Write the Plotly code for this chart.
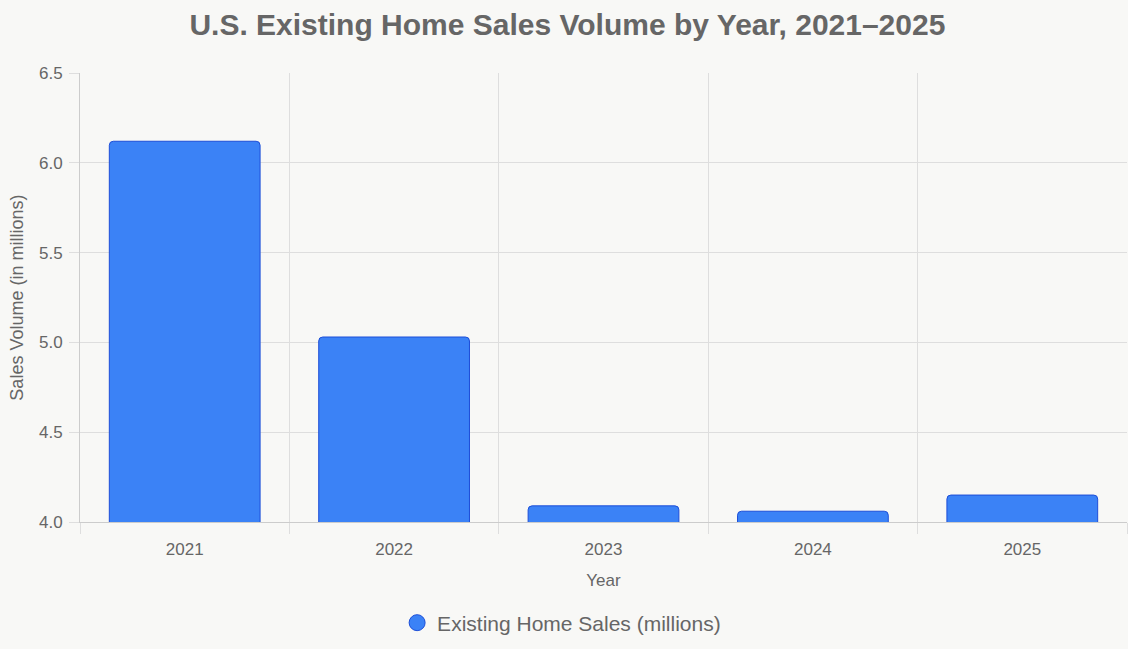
import plotly.graph_objects as go

years = ["2021", "2022", "2023", "2024", "2025"]
sales = [6.12, 5.03, 4.09, 4.06, 4.15]
y_ticks = [4.0, 4.5, 5.0, 5.5, 6.0, 6.5]
series_name = "Existing Home Sales (millions)"

FILL = "#3b82f6"
EDGE = "#1d4ed8"
TXT = "#666666"
GRID = "#dedede"
BG = "#f8f8f6"
FONT = "Liberation Sans, Arial, sans-serif"

fig = go.Figure()
fig.add_trace(go.Bar(
    x=years, y=sales, base=0,
    marker=dict(color=FILL, line=dict(color=EDGE, width=1), cornerradius=4),
    width=0.72, showlegend=False, hoverinfo="x+y",
))
fig.add_trace(go.Scatter(
    x=[None], y=[None], mode="markers", name=series_name,
    marker=dict(symbol="circle", size=18, color=FILL, line=dict(color=EDGE, width=1)),
))

fig.update_layout(
    width=1128, height=649,
    paper_bgcolor=BG, plot_bgcolor=BG,
    font=dict(family=FONT, color=TXT, size=17),
    title=dict(text="<b>U.S. Existing Home Sales Volume by Year, 2021–2025</b>",
               x=0.503, xanchor="center", y=0.963, yanchor="middle",
               font=dict(size=30, color=TXT, family=FONT)),
    margin=dict(l=80, r=1, t=73, b=127, autoexpand=False),
    showlegend=True,
    legend=dict(orientation="h", x=0.46, xanchor="center", y=-0.225, yanchor="middle",
                font=dict(size=21, color=TXT), bgcolor="rgba(0,0,0,0)", itemsizing="trace"),
    annotations=[dict(
        text="Sales Volume (in millions)", textangle=-90, showarrow=False,
        xref="paper", yref="paper", x=-0.061, y=0.5, xanchor="center", yanchor="middle",
        font=dict(size=18, color=TXT, family=FONT),
    )],
)
fig.update_xaxes(
    type="category", tickson="boundaries", showgrid=True, gridcolor=GRID, gridwidth=1,
    ticks="outside", ticklen=11, tickcolor=GRID, ticklabelstandoff=12,
    showline=True, linecolor="#cccccc", linewidth=1,
    tickfont=dict(size=17, color=TXT),
    title=dict(text="Year", font=dict(size=17, color=TXT), standoff=15),
    zeroline=False,
)
fig.update_yaxes(
    range=[4.0, 6.5], tickvals=y_ticks, ticktext=[f"{v:.1f}" for v in y_ticks],
    showgrid=True, gridcolor=GRID, gridwidth=1,
    ticks="outside", ticklen=10, tickcolor=GRID, ticklabelstandoff=3,
    showline=True, linecolor="#cccccc", linewidth=1,
    tickfont=dict(size=17, color=TXT),
    zeroline=False,
)

fig.write_html(
    "out.html",
    config={"displayModeBar": False},
    post_script="document.body.style.margin='0';document.body.style.background='%s';" % BG,
)
